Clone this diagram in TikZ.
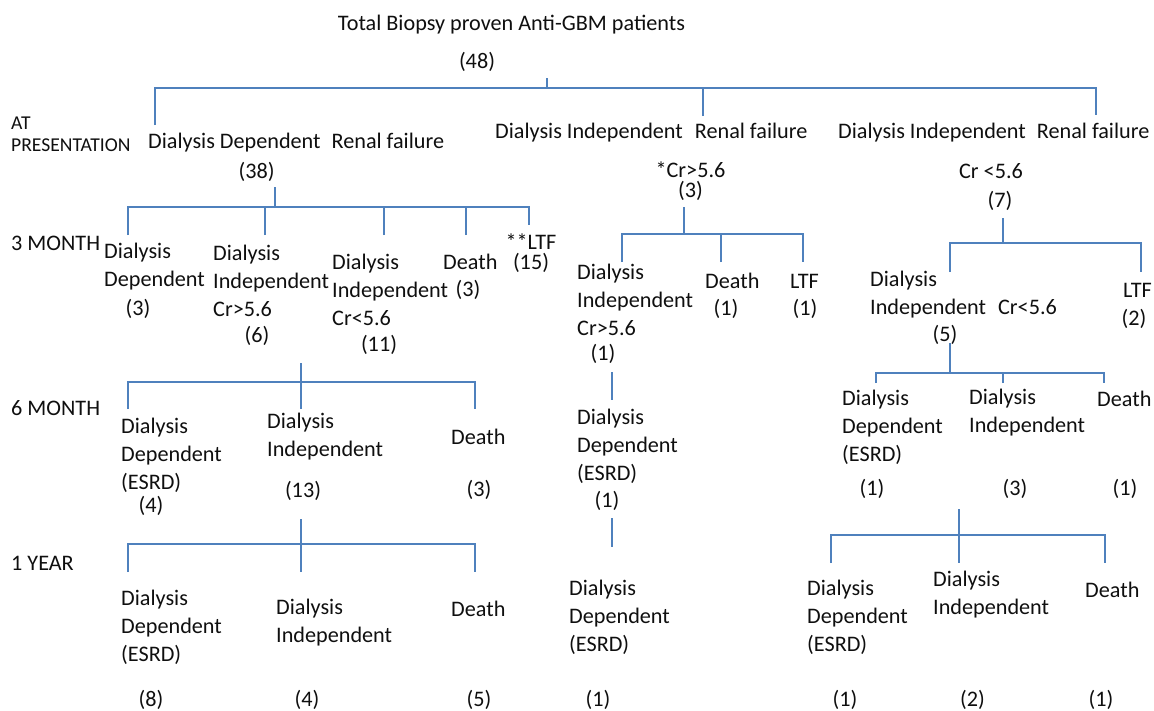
\documentclass[tikz,border=0pt]{standalone}
\usepackage{fontspec}
\setmainfont{Carlito}
\definecolor{lineblue}{RGB}{79,129,189}
\definecolor{txt}{RGB}{15,15,15}
\newcommand{\fsz}{\fontsize{22.2}{28}\selectfont}
\newcommand{\fst}{\fontsize{22.2}{20}\selectfont}
\newcommand{\fsm}{\fontsize{19.6}{22}\selectfont}
\begin{document}
\begin{tikzpicture}[x=1pt,y=-1pt,
  lbl/.style={inner sep=0pt, anchor=west, align=left, font=\fsz, text=txt},
  cnt/.style={inner sep=0pt, font=\fsz, text=txt},
  pair/.style={inner sep=0pt, align=center, font=\fst, text=txt},
  rowlbl/.style={inner sep=0pt, anchor=west, align=left, font=\fsz, text=txt},
  ln/.style={draw=lineblue, line width=1.6pt}]
\useasboundingbox (0,0) rectangle (1154,710);

% ---------- top ----------
\node[cnt] (title) at (511.5,25) {Total Biopsy proven Anti-GBM patients};
\node[cnt] (n48) at (477,62) {(48)};

% ---------- row labels ----------
\node[rowlbl, font=\fsm] (rAT) at (11,134) {AT\\PRESENTATION};
\node[rowlbl] (r3) at (11,243) {3 MONTH};
\node[rowlbl] (r6) at (11,408) {6 MONTH};
\node[rowlbl] (r12) at (11,563) {1 YEAR};

% ---------- at presentation ----------
\node[lbl] (pA) at (148,143) {Dialysis Dependent\hspace{11pt}Renal failure};
\node[cnt] (pA38) at (256.7,172) {(38)};
\node[lbl] (pB) at (495,133) {Dialysis Independent\hspace{12pt}Renal failure};
\node[pair] (pBcr) at (690.5,181) {*Cr>5.6\\(3)};
\node[lbl] (pC) at (838,133) {Dialysis Independent\hspace{11pt}Renal failure};
\node[cnt] (pCcr) at (991,171) {Cr <5.6};
\node[cnt] (pC7) at (1000,201) {(7)};

% ---------- left branch, 3 month ----------
\node[lbl] (a1) at (104,267) {Dialysis\\Dependent};
\node[cnt] (a1n) at (138,309) {(3)};
\node[lbl] (a2) at (213,281) {Dialysis\\Independent\\Cr>5.6};
\node[cnt] (a2n) at (257,336) {(6)};
\node[lbl] (a3) at (332,290) {Dialysis\\Independent\\Cr<5.6};
\node[cnt] (a3n) at (379,345) {(11)};
\node[lbl] (a4) at (443,262) {Death};
\node[cnt] (a4n) at (468,290) {(3)};
\node[pair] (a5) at (531,253) {**LTF\\(15)};

% ---------- left branch, 6 month ----------
\node[lbl] (b1) at (121,455) {Dialysis\\Dependent\\(ESRD)};
\node[cnt] (b1n) at (151,506) {(4)};
\node[lbl] (b2) at (267,437) {Dialysis\\Independent};
\node[cnt] (b2n) at (303,491) {(13)};
\node[lbl] (b3) at (451,437) {Death};
\node[cnt] (b3n) at (479,490) {(3)};

% ---------- left branch, 1 year ----------
\node[lbl] (c1) at (121,627.5) {Dialysis\\Dependent\\(ESRD)};
\node[cnt] (c1n) at (151,700) {(8)};
\node[lbl] (c2) at (276,623) {Dialysis\\Independent};
\node[cnt] (c2n) at (307,700) {(4)};
\node[lbl] (c3) at (451,609) {Death};
\node[cnt] (c3n) at (479,700) {(5)};

% ---------- middle branch ----------
\node[lbl] (m1) at (577,299.5) {Dialysis\\Independent\\Cr>5.6};
\node[cnt] (m1n) at (603,354) {(1)};
\node[lbl] (m2) at (705,281) {Death};
\node[cnt] (m2n) at (726,309) {(1)};
\node[lbl] (m3) at (790,281) {LTF};
\node[cnt] (m3n) at (805,309) {(1)};
\node[lbl] (m4) at (577,446) {Dialysis\\Dependent\\(ESRD)};
\node[cnt] (m4n) at (607,501) {(1)};
\node[lbl] (m5) at (569,617) {Dialysis\\Dependent\\(ESRD)};
\node[cnt] (m5n) at (598,700) {(1)};

% ---------- right branch ----------
\node[lbl] (q1) at (870,294.5) {Dialysis\\Independent\hspace{12pt}Cr<5.6};
\node[cnt] (q1n) at (945,335) {(5)};
\node[lbl] (q2) at (1123,290) {LTF};
\node[cnt] (q2n) at (1134,319) {(2)};
\node[lbl] (q3) at (842,427) {Dialysis\\Dependent\\(ESRD)};
\node[cnt] (q3n) at (872,489) {(1)};
\node[lbl] (q4) at (969,413) {Dialysis\\Independent};
\node[cnt] (q4n) at (1015,489) {(3)};
\node[lbl] (q5) at (1097,399) {Death};
\node[cnt] (q5n) at (1125,489) {(1)};
\node[lbl] (q6) at (807,617) {Dialysis\\Dependent\\(ESRD)};
\node[cnt] (q6n) at (845,700) {(1)};
\node[lbl] (q7) at (933,595) {Dialysis\\Independent};
\node[cnt] (q7n) at (972.5,700) {(2)};
\node[lbl] (q8) at (1085,590) {Death};
\node[cnt] (q8n) at (1101,700) {(1)};

% ---------- connectors ----------
% level 0
\coordinate (j0t) at (547,78);
\coordinate (j0) at (547,88);
\coordinate (dA) at (155,125);
\coordinate (dB) at (703,116);
\coordinate (dC) at (1096,115);
\draw[ln] (j0t) -- (j0);
\draw[ln] (dA) |- (j0) -| (dC);
\draw[ln] (dB) -- (dB |- j0);

% left 3 month
\coordinate (jLt) at (274.7,187);
\coordinate (jL) at (274.7,207);
\coordinate (ea1) at (128,235);
\coordinate (ea2) at (265,235);
\coordinate (ea3) at (384,235);
\coordinate (ea4) at (466,235);
\coordinate (ea5) at (529,225);
\draw[ln] (jLt) -- (jL);
\draw[ln] (ea1) |- (jL) -| (ea5);
\foreach \e in {ea2,ea3,ea4} \draw[ln] (\e) -- (\e |- jL);

% left 6 month
\coordinate (jSt) at (301,363);
\coordinate (jS) at (301,382);
\coordinate (eb1) at (128,409);
\coordinate (eb2) at (301,409);
\coordinate (eb3) at (475,409);
\draw[ln] (eb1) |- (jS) -| (eb3);
\draw[ln] (jSt) -- (eb2);

% left 1 year
\coordinate (jYt) at (301,519);
\coordinate (jY) at (301,544);
\coordinate (ec1) at (128,572);
\coordinate (ec2) at (301,572);
\coordinate (ec3) at (475,572);
\draw[ln] (ec1) |- (jY) -| (ec3);
\draw[ln] (jYt) -- (ec2);

% middle 3 month
\coordinate (jMt) at (684,207);
\coordinate (jM) at (684,234);
\coordinate (em1) at (622,262);
\coordinate (em2) at (721,262);
\coordinate (em3) at (803,262);
\draw[ln] (jMt) -- (jM);
\draw[ln] (em1) |- (jM) -| (em3);
\draw[ln] (em2) -- (em2 |- jM);

% middle 6 month and 1 year
\coordinate (vm1) at (612,372);
\coordinate (vm2) at (612,400);
\coordinate (vm3) at (612,518);
\coordinate (vm4) at (612,547);
\draw[ln] (vm1) -- (vm2);
\draw[ln] (vm3) -- (vm4);

% right 3 month
\coordinate (jRt) at (1003,218);
\coordinate (jR) at (1003,243);
\coordinate (er1) at (950,272);
\coordinate (er2) at (1141,272);
\draw[ln] (jRt) -- (jR);
\draw[ln] (er1) |- (jR) -| (er2);

% right 6 month
\coordinate (jR6t) at (950,343);
\coordinate (jR6) at (950,373);
\coordinate (es1) at (876,383);
\coordinate (es2) at (1003,383);
\coordinate (es3) at (1104,383);
\draw[ln] (jR6t) -- (jR6);
\draw[ln] (es1) |- (jR6) -| (es3);
\draw[ln] (es2) -- (es2 |- jR6);

% right 1 year
\coordinate (jR12t) at (959,509);
\coordinate (jR12) at (959,535);
\coordinate (et1) at (831,563);
\coordinate (et2) at (959,563);
\coordinate (et3) at (1105,563);
\draw[ln] (et1) |- (jR12) -| (et3);
\draw[ln] (jR12t) -- (et2);
\end{tikzpicture}
\end{document}
